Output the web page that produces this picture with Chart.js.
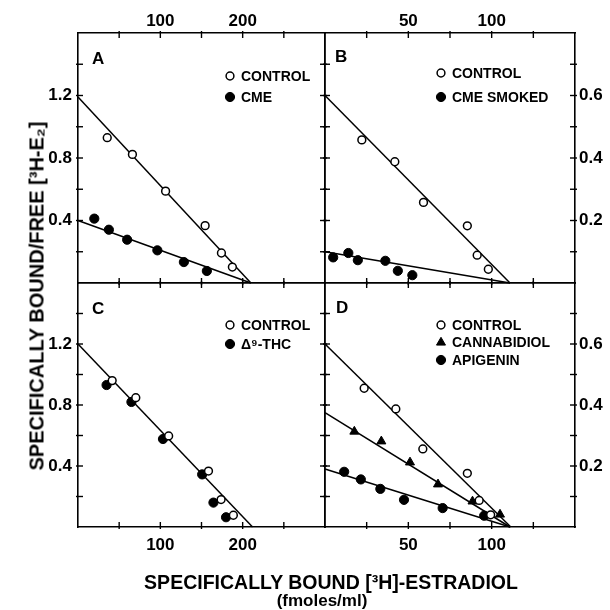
<!DOCTYPE html>
<html>
<head>
<meta charset="utf-8">
<script src="https://cdn.jsdelivr.net/npm/chart.js@4.4.1/dist/chart.umd.min.js"></script>
<style>
  html, body { margin: 0; padding: 0; background: #fff; }
  #wrap { position: relative; width: 610px; height: 610px; overflow: hidden;
          font-family: "Liberation Sans", Arial, sans-serif; color: #000; }
  #wrap canvas { position: absolute; }
  .title { position: absolute; font-weight: bold; white-space: nowrap; }
  #ytitle { left: 37px; top: 296px; font-size: 20px; transform: translate(-50%, -50%) rotate(-90deg); }
  #xtitle { left: 331px; top: 582px; font-size: 19.5px; transform: translate(-50%, -50%); }
  #xunit  { left: 322px; top: 601px; font-size: 17px; transform: translate(-50%, -50%); }
</style>
</head>
<body>
<div id="wrap">
  <canvas id="panel-a" width="360" height="310" style="left:0;top:0"></canvas>
  <canvas id="panel-b" width="320" height="310" style="left:290px;top:0"></canvas>
  <canvas id="panel-c" width="360" height="355" style="left:0;top:255px"></canvas>
  <canvas id="panel-d" width="320" height="355" style="left:290px;top:255px"></canvas>
  <div class="title" id="ytitle">SPECIFICALLY BOUND/FREE [³H-E₂]</div>
  <div class="title" id="xtitle">SPECIFICALLY BOUND [³H]-ESTRADIOL</div>
  <div class="title" id="xunit">(fmoles/ml)</div>
</div>
<script>
"use strict";

//=> Data (x = bound fmoles/ml, y = bound/free)
// panel A
var ctrlA = [[35.5, 0.93], [66.1, 0.823], [106.4, 0.588], [154.4, 0.367], [174.2, 0.192], [187.5, 0.102]];
var cmeA = [[19.8, 0.412], [37.5, 0.341], [59.7, 0.277], [96.4, 0.209], [128.6, 0.134], [156.5, 0.077]];
var fitCtrlA = [[0, 1.19], [210, 0]];
var fitCmeA = [[0, 0.40], [210, 0]];

// panel B
var ctrlB = [[22.1, 0.458], [41.9, 0.388], [59.1, 0.258], [85.4, 0.183], [91.3, 0.089], [98, 0.044]];
var smokedB = [[4.9, 0.082], [14, 0.096], [19.7, 0.073], [36.2, 0.071], [43.7, 0.039], [52.4, 0.025]];
var fitCtrlB = [[0, 0.6], [111, 0]];
var fitSmokedB = [[0, 0.1], [111, 0]];

// panel C
var ctrlC = [[41.5, 0.96], [70.2, 0.848], [110.1, 0.597], [158.5, 0.367], [173.8, 0.18], [188.7, 0.077]];
var thcC = [[34.7, 0.931], [64.9, 0.82], [103.2, 0.577], [150.8, 0.345], [164.5, 0.16], [179.8, 0.064]];
var fitC = [[0, 1.2], [212, 0]];

// panel D
var ctrlD = [[23.5, 0.455], [42.5, 0.387], [58.7, 0.256], [85.4, 0.176], [92.5, 0.087], [99.4, 0.04]];
var cbdD = [[17.6, 0.313], [33.8, 0.281], [51, 0.212], [67.8, 0.14], [88.5, 0.084], [105, 0.041]];
var apiD = [[11.5, 0.181], [21.5, 0.156], [33.2, 0.125], [47.4, 0.089], [70.6, 0.062], [95.5, 0.037]];
var fitCtrlD = [[0, 0.6], [111.5, 0]];
var fitCbdD = [[0, 0.375], [111, 0]];
var fitApiD = [[0, 0.19], [111, 0]];

//=> Axes ranges and tick labels
var xMaxLeft = 300, xStepLeft = 50, yMaxLeft = 1.6, yStepLeft = 0.2;
var xMaxRight = 150, xStepRight = 25, yMaxRight = 0.8, yStepRight = 0.1;
var xLabelsLeft = [100, 200];
var xLabelsRight = [50, 100];
var yLabelsLeft = [0.4, 0.8, 1.2];
var yLabelsRight = [0.2, 0.4, 0.6];

//=> Marker styles
var openPt = { pointStyle: 'circle', radius: 3.9, fill: '#fff', border: 1.5 };
var solidPt = { pointStyle: 'circle', radius: 4.6, fill: '#000', border: 1 };
var triPt = { pointStyle: 'triangle', radius: 5.2, fill: '#000', border: 1 };

var ScatchardPanels = function () {

    var toXY = function (arr) {
        return arr.map(function (p) { return { x: p[0], y: p[1] }; });
    };

    var points = function (arr, st, order) {
        return {
            data: toXY(arr),
            pointStyle: st.pointStyle,
            pointRadius: st.radius,
            pointBackgroundColor: st.fill,
            pointBorderColor: '#000',
            pointBorderWidth: st.border,
            order: order
        };
    };

    var fitLine = function (arr) {
        return {
            data: toXY(arr),
            showLine: true,
            borderColor: '#000',
            borderWidth: 1.5,
            pointRadius: 0,
            order: 5
        };
    };

    var axis = function (pos, max, step, labels, size, padding) {
        var horiz = (pos === 'top' || pos === 'bottom');
        return {
            type: 'linear',
            position: pos,
            min: 0,
            max: max,
            grid: { display: false, drawTicks: false, tickLength: 0 },
            border: { display: true, color: '#000', width: 1.6 },
            ticks: {
                stepSize: step,
                autoSkip: false,
                maxRotation: 0,
                padding: padding,
                color: '#000',
                font: { family: '"Liberation Sans", Arial, sans-serif', size: 17, weight: 'bold' },
                callback: function (v) {
                    var hit = labels.some(function (l) { return Math.abs(l - v) < 1e-6; });
                    if (!hit) return '';
                    return horiz ? String(Math.round(v)) : v.toFixed(1);
                }
            },
            afterFit: function (s) {
                if (horiz) s.height = size; else s.width = size;
            }
        };
    };

    //=> short tick marks crossing each frame side
    var tickMarks = {
        id: 'tickMarks',
        afterDraw: function (chart) {
            var ctx = chart.ctx, a = chart.chartArea;
            ctx.save();
            ctx.strokeStyle = '#000';
            ctx.lineWidth = 1.4;
            Object.keys(chart.scales).forEach(function (k) {
                var s = chart.scales[k];
                s.ticks.forEach(function (t) {
                    if (t.value <= s.min + 1e-9 || t.value >= s.max - 1e-9) return;
                    var p = s.getPixelForValue(t.value);
                    ctx.beginPath();
                    if (s.position === 'left') { ctx.moveTo(a.left - 2, p); ctx.lineTo(a.left + 5, p); }
                    if (s.position === 'right') { ctx.moveTo(a.right + 2, p); ctx.lineTo(a.right - 5, p); }
                    if (s.position === 'top') { ctx.moveTo(p, a.top - 2); ctx.lineTo(p, a.top + 5); }
                    if (s.position === 'bottom') { ctx.moveTo(p, a.bottom + 2); ctx.lineTo(p, a.bottom - 5); }
                    ctx.stroke();
                });
            });
            ctx.restore();
        }
    };

    //=> panel letter and in-plot key
    var panelKey = {
        id: 'panelKey',
        afterDraw: function (chart, args, o) {
            var ctx = chart.ctx, a = chart.chartArea;
            ctx.save();
            ctx.fillStyle = '#000';
            ctx.textBaseline = 'middle';
            ctx.font = 'bold 17px "Liberation Sans", Arial, sans-serif';
            ctx.fillText(o.letter, a.left + o.lx, a.top + o.ly);
            ctx.font = 'bold 14px "Liberation Sans", Arial, sans-serif';
            o.items.forEach(function (it, i) {
                var x = a.left + o.mx, y = a.top + o.my + i * o.gap;
                ctx.fillStyle = it.style.fill;
                ctx.strokeStyle = '#000';
                ctx.lineWidth = it.style.border;
                Chart.helpers.drawPoint(ctx, {
                    pointStyle: it.style.pointStyle,
                    radius: it.style.radius,
                    borderWidth: it.style.border,
                    rotation: 0
                }, x, y);
                ctx.fillStyle = '#000';
                ctx.fillText(it.label, x + 11, y + 1);
            });
            ctx.restore();
        }
    };

    var makePanel = function (id, p) {
        var ctx = document.getElementById(id).getContext('2d');
        return new Chart(ctx, {
            type: 'scatter',
            data: { datasets: p.datasets },
            options: {
                responsive: false,
                animation: false,
                layout: { padding: 0 },
                clip: false,
                scales: p.scales,
                plugins: {
                    legend: { display: false },
                    tooltip: { enabled: false },
                    panelKey: p.key
                }
            },
            plugins: [tickMarks, panelKey]
        });
    };

    var initCharts = function () {
        makePanel('panel-a', {
            datasets: [
                points(ctrlA, openPt, 1), points(cmeA, solidPt, 2),
                fitLine(fitCtrlA), fitLine(fitCmeA)
            ],
            scales: {
                x: axis('bottom', xMaxLeft, xStepLeft, [], 27, 0),
                x2: axis('top', xMaxLeft, xStepLeft, xLabelsLeft, 33, 1),
                y: axis('left', yMaxLeft, yStepLeft, yLabelsLeft, 78, 6),
                y2: axis('right', yMaxLeft, yStepLeft, [], 35, 0)
            },
            key: {
                letter: 'A', lx: 14, ly: 26, mx: 152, my: 43, gap: 21,
                items: [{ label: 'CONTROL', style: openPt }, { label: 'CME', style: solidPt }]
            }
        });

        makePanel('panel-b', {
            datasets: [
                points(ctrlB, openPt, 1), points(smokedB, solidPt, 2),
                fitLine(fitCtrlB), fitLine(fitSmokedB)
            ],
            scales: {
                x: axis('bottom', xMaxRight, xStepRight, [], 27, 0),
                x2: axis('top', xMaxRight, xStepRight, xLabelsRight, 33, 1),
                y: axis('left', yMaxRight, yStepRight, [], 35, 0),
                y2: axis('right', yMaxRight, yStepRight, yLabelsRight, 35, 4)
            },
            key: {
                letter: 'B', lx: 10, ly: 24, mx: 116, my: 40, gap: 24,
                items: [{ label: 'CONTROL', style: openPt }, { label: 'CME SMOKED', style: solidPt }]
            }
        });

        makePanel('panel-c', {
            datasets: [
                points(ctrlC, openPt, 1), points(thcC, solidPt, 2),
                fitLine(fitC)
            ],
            scales: {
                x: axis('bottom', xMaxLeft, xStepLeft, xLabelsLeft, 83, 8),
                x2: axis('top', xMaxLeft, xStepLeft, [], 28, 0),
                y: axis('left', yMaxLeft, yStepLeft, yLabelsLeft, 78, 6),
                y2: axis('right', yMaxLeft, yStepLeft, [], 35, 0)
            },
            key: {
                letter: 'C', lx: 14, ly: 26, mx: 152, my: 42, gap: 19,
                items: [{ label: 'CONTROL', style: openPt }, { label: 'Δ⁹-THC', style: solidPt }]
            }
        });

        makePanel('panel-d', {
            datasets: [
                points(ctrlD, openPt, 1), points(cbdD, triPt, 2), points(apiD, solidPt, 3),
                fitLine(fitCtrlD), fitLine(fitCbdD), fitLine(fitApiD)
            ],
            scales: {
                x: axis('bottom', xMaxRight, xStepRight, xLabelsRight, 83, 8),
                x2: axis('top', xMaxRight, xStepRight, [], 28, 0),
                y: axis('left', yMaxRight, yStepRight, [], 35, 0),
                y2: axis('right', yMaxRight, yStepRight, yLabelsRight, 35, 4)
            },
            key: {
                letter: 'D', lx: 11, ly: 25, mx: 116, my: 42, gap: 17.5,
                items: [
                    { label: 'CONTROL', style: openPt },
                    { label: 'CANNABIDIOL', style: triPt },
                    { label: 'APIGENIN', style: solidPt }
                ]
            }
        });
    };

    return {
        init: function () {
            initCharts();
        }
    };
}();

ScatchardPanels.init();
</script>
</body>
</html>
